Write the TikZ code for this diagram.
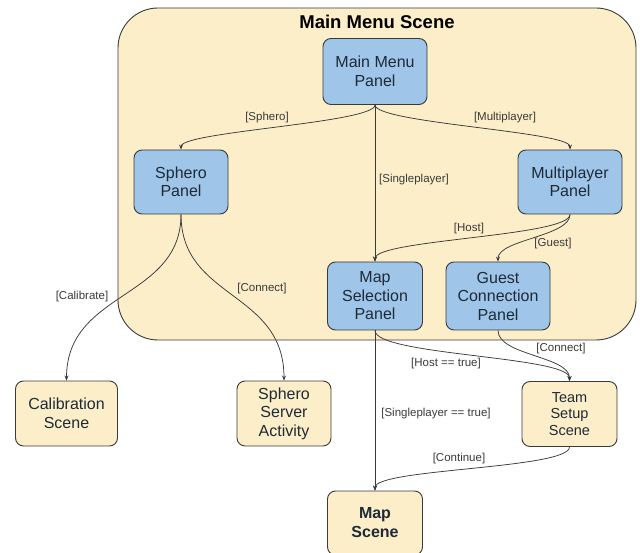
\documentclass[tikz,border=0pt]{standalone}
\usepackage{fontspec}
\setmainfont{Liberation Sans}
\usetikzlibrary{arrows.meta}
\definecolor{beige}{HTML}{FCEEC8}
\definecolor{panelblue}{HTML}{9FC5E8}
\definecolor{edgegray}{HTML}{3A3A3A}
\definecolor{txt}{HTML}{1E2A38}
\tikzset{
  panel/.style={draw=edgegray, line width=0.9pt, fill=panelblue, rounded corners=8pt,
    align=center, text=txt, font=\fontsize{16}{18.5}\selectfont, inner sep=0pt},
  scenebox/.style={panel, fill=beige},
  lbl/.style={font=\fontsize{11.5}{13}\selectfont, text=edgegray, inner sep=1pt},
  conn/.style={draw=edgegray, line width=0.75pt, -{Stealth[length=5pt,width=4pt]}}
}
\begin{document}
\begin{tikzpicture}[x=1pt,y=-1pt]
\useasboundingbox (0,0) rectangle (640,553);
% container
\node[draw=edgegray, line width=0.9pt, fill=beige, rounded corners=40pt,
  minimum width=518pt, minimum height=332pt, inner sep=0pt] (container) at (377,174) {};
\node[font=\bfseries\fontsize{18.5}{20}\selectfont, text=black] (title) at (377,22) {Main Menu Scene};
% panels
\node[panel, minimum width=104pt, minimum height=66pt] (mm) at (375,71.5) {Main Menu\\Panel};
\node[panel, minimum width=94pt, minimum height=64pt] (sp) at (181,182) {Sphero\\Panel};
\node[panel, minimum width=104pt, minimum height=64pt] (mp) at (570,182) {Multiplayer\\Panel};
\node[panel, minimum width=95pt, minimum height=68pt] (ms) at (375,296) {Map\\Selection\\Panel};
\node[panel, minimum width=104pt, minimum height=68pt] (gc) at (498,296) {Guest\\Connection\\Panel};
% scenes
\node[scenebox, minimum width=102pt, minimum height=65pt] (cal) at (66.5,413.5) {Calibration\\Scene};
\node[scenebox, minimum width=94pt, minimum height=65pt] (ssa) at (284,413.5) {Sphero\\Server\\Activity};
\node[scenebox, minimum width=95pt, minimum height=65pt, font=\fontsize{14.5}{16.7}\selectfont] (ts) at (569.5,414) {Team\\Setup\\Scene};
\node[scenebox, minimum width=95pt, minimum height=64pt, font=\bfseries\fontsize{16}{19}\selectfont] (map) at (375,523) {Map\\Scene};
% connectors
\draw[conn] (mm.south) .. controls +(0,18) and +(0,-18) .. (sp.north);
\draw[conn] (mm.south) .. controls +(0,18) and +(0,-18) .. (mp.north);
\draw[conn] (mm.south) -- (ms.north);
\draw[conn] (mp.south) .. controls +(0,22) and +(0,-22) .. (ms.north);
\draw[conn] (mp.south) .. controls +(0,22) and +(0,-22) .. (gc.north);
\draw[conn] (sp.south) .. controls +(0,85) and +(0,-90) .. (cal.north);
\draw[conn] (sp.south) .. controls +(0,85) and +(0,-90) .. (ssa.north);
\draw[conn] (ms.south) .. controls +(0,25) and +(0,-25) .. (ts.north);
\draw[conn] (gc.south) .. controls +(0,25) and +(0,-25) .. (ts.north);
\draw[conn] (ms.south) -- (map.north);
\draw[conn] (ts.south) .. controls +(0,22) and +(0,-22) .. (map.north);
% labels
\node[lbl] (l1) at (267,118) {[Sphero]};
\node[lbl] (l2) at (505,118) {[Multiplayer]};
\node[lbl] (l3) at (414,180) {[Singleplayer]};
\node[lbl] (l4) at (469,229) {[Host]};
\node[lbl] (l5) at (553,244) {[Guest]};
\node[lbl] (l6) at (82,297) {[Calibrate]};
\node[lbl] (l7) at (262,289) {[Connect]};
\node[lbl] (l8) at (446,364) {[Host == true]};
\node[lbl] (l9) at (561,349) {[Connect]};
\node[lbl] (l10) at (436,414) {[Singleplayer == true]};
\node[lbl] (l11) at (459,459) {[Continue]};
\end{tikzpicture}
\end{document}
